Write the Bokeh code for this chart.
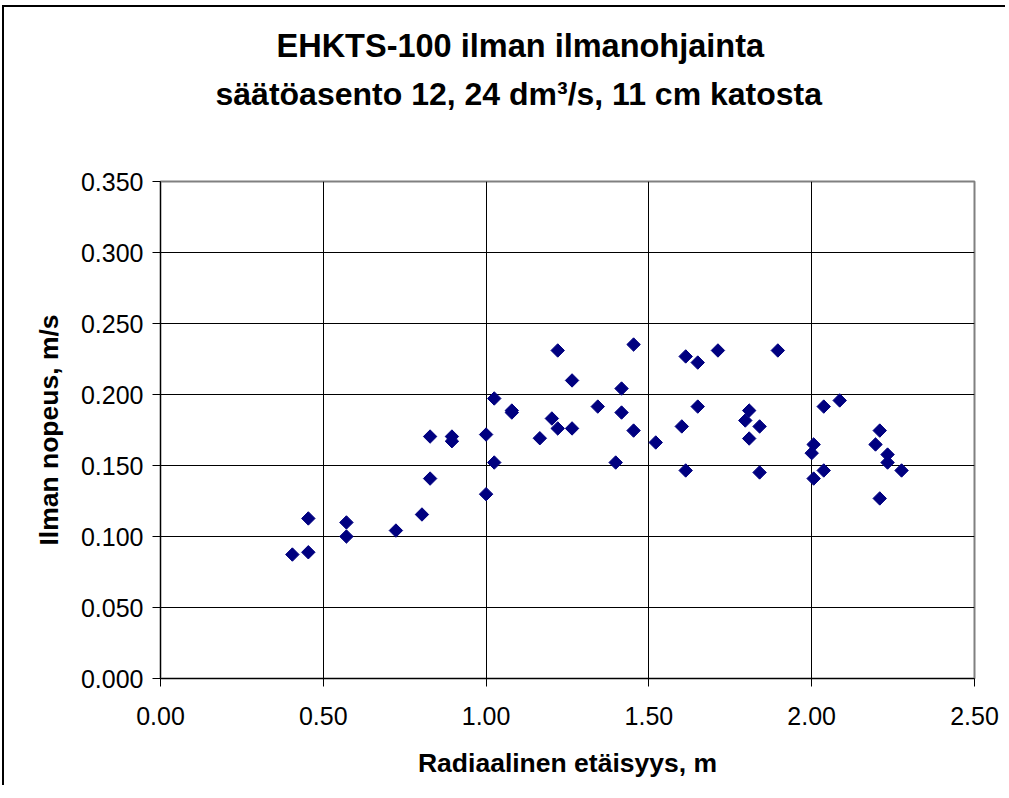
import math
from bokeh.plotting import figure
from bokeh.models import Range1d, FixedTicker, Title, NumeralTickFormatter
from bokeh.embed import file_html
from bokeh.resources import INLINE

# Data
distance_m = [0.405, 0.454, 0.454, 0.571, 0.571, 0.723, 0.803, 0.828, 0.828, 0.895, 0.895,
              1.000, 1.000, 1.025, 1.025, 1.079, 1.079, 1.165, 1.202, 1.220, 1.220,
              1.264, 1.264, 1.343, 1.398, 1.416, 1.416, 1.453, 1.453, 1.521,
              1.601, 1.613, 1.613, 1.650, 1.650, 1.712, 1.796, 1.808, 1.808, 1.840, 1.840, 1.896,
              2.006, 2.000, 2.006, 2.037, 2.037, 2.086, 2.196, 2.209, 2.209, 2.233, 2.233, 2.276]
speed_ms = [0.0873, 0.0889, 0.1127, 0.1099, 0.1000, 0.1042, 0.1155, 0.1408, 0.1704, 0.1704, 0.1671,
            0.1718, 0.1298, 0.1972, 0.1521, 0.1887, 0.1873, 0.1692, 0.1831, 0.1761, 0.2310,
            0.2099, 0.1761, 0.1915, 0.1521, 0.2042, 0.1873, 0.2352, 0.1746, 0.1662,
            0.1775, 0.2268, 0.1465, 0.2225, 0.1915, 0.2310, 0.1817, 0.1887, 0.1690, 0.1775, 0.1451, 0.2310,
            0.1648, 0.1587, 0.1408, 0.1465, 0.1915, 0.1958, 0.1648, 0.1746, 0.1268, 0.1577, 0.1521, 0.1465]

x_ticks = [0.0, 0.5, 1.0, 1.5, 2.0, 2.5]
y_ticks = [0.0, 0.05, 0.10, 0.15, 0.20, 0.25, 0.30, 0.35]

title_lines = ["EHKTS-100 ilman ilmanohjainta", "säätöasento 12, 24 dm³/s, 11 cm katosta"]
x_label = "Radiaalinen etäisyys, m"
y_label = "Ilman nopeus, m/s"

FONT = "Liberation Sans"

p = figure(width=1003, height=780, output_backend="svg", toolbar_location=None,
           x_range=Range1d(0, 2.5), y_range=Range1d(0, 0.35),
           min_border_left=156, min_border_right=33, min_border_top=174, min_border_bottom=109)

p.background_fill_color = "white"
p.border_fill_color = "white"
p.outline_line_color = "#808080"
p.outline_line_width = 2

for ax in (p.xaxis[0], p.yaxis[0]):
    ax.axis_line_color = "black"
    ax.axis_line_width = 1
    ax.major_tick_line_color = "black"
    ax.major_tick_out = 8
    ax.major_tick_in = 0
    ax.minor_tick_line_color = None
    ax.major_label_text_font = FONT
    ax.major_label_text_font_size = "25px"
    ax.major_label_text_color = "black"
    ax.axis_label_text_font = FONT
    ax.axis_label_text_font_size = "26.5px"
    ax.axis_label_text_font_style = "bold"
    ax.axis_label_text_color = "black"

p.xaxis.ticker = FixedTicker(ticks=x_ticks)
p.yaxis.ticker = FixedTicker(ticks=y_ticks)
p.xaxis.formatter = NumeralTickFormatter(format="0.00")
p.yaxis.formatter = NumeralTickFormatter(format="0.000")
p.xaxis.axis_label = x_label
p.yaxis.axis_label = y_label
p.xaxis.major_label_standoff = 20
p.yaxis.major_label_standoff = 9
p.xaxis.axis_label_standoff = 20
p.yaxis.axis_label_standoff = 14

p.xgrid.ticker = FixedTicker(ticks=x_ticks)
p.ygrid.ticker = FixedTicker(ticks=y_ticks)
p.xgrid.grid_line_color = "black"
p.ygrid.grid_line_color = "black"
p.xgrid.grid_line_width = 1
p.ygrid.grid_line_width = 1

p.scatter(distance_m, speed_ms, marker="square", size=9.5, angle=math.pi / 4,
          fill_color="#000080", line_color="#000080")

# Title: a spacer next to the frame, then the two title lines above it
p.add_layout(Title(text=" ", text_font_size="48px", text_font=FONT), "above")
p.add_layout(Title(text=title_lines[1], align="left", offset=55, text_font=FONT,
                   text_font_size="32px", text_font_style="bold", text_color="black"), "above")
p.add_layout(Title(text=title_lines[0], align="left", offset=116, text_font=FONT,
                   text_font_size="32.5px", text_font_style="bold", text_color="black"), "above")

p.styles = {"margin-left": "2px", "margin-top": "5px",
            "border-left": "2px solid black", "border-top": "2px solid black"}

open("out.html", "w").write(file_html(p, INLINE))
